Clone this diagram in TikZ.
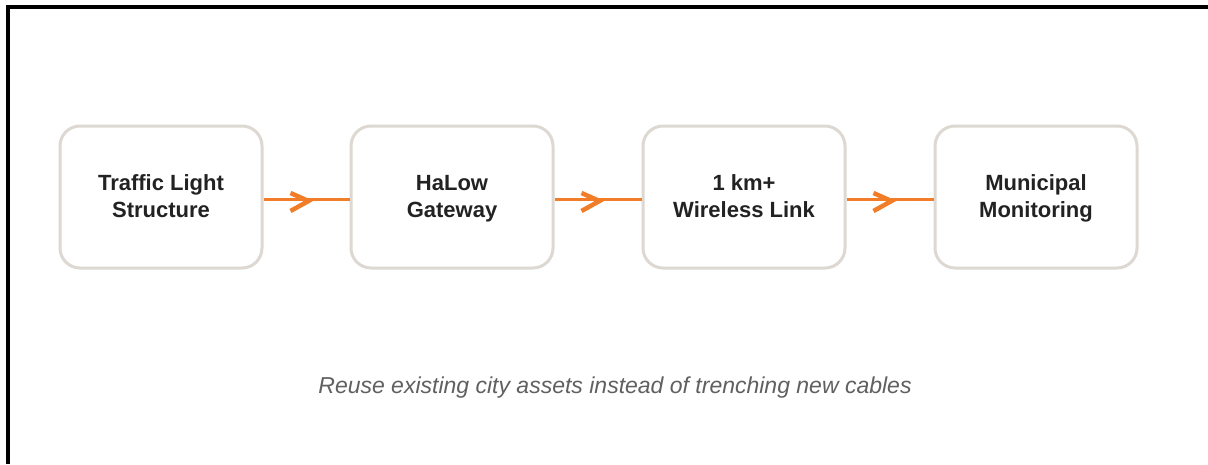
\documentclass[tikz,border=0pt]{standalone}
\usepackage{fontspec}
\setmainfont{Liberation Sans}
\definecolor{boxline}{RGB}{221,217,210}
\definecolor{orng}{RGB}{242,125,40}
\definecolor{txt}{RGB}{34,34,34}
\definecolor{cap}{RGB}{96,96,96}
\newcommand{\topstrut}{\rule{0pt}{22.9pt}}
\begin{document}
\begin{tikzpicture}[x=1pt,y=-1pt,
  stepbox/.style={draw=boxline, line width=3pt, rounded corners=20pt, minimum width=202pt, minimum height=142pt, align=center, text=txt, font=\fontsize{22}{27}\selectfont\bfseries, inner sep=0pt},
  link/.style={draw=orng, line width=3pt},
  chev/.style={draw=orng, line width=4.5pt, line join=miter}]
\useasboundingbox (0,0) rectangle (1208,464);
\fill[white] (0,0) rectangle (1208,464);
\draw[line width=4pt] (8,464) -- (8,7) -- (1208,7);
\node[stepbox] (a) at (161,197) {\topstrut Traffic Light\\\strut Structure};
\node[stepbox] (b) at (452,197) {\topstrut HaLow\\\strut Gateway};
\node[stepbox] (c) at (744,197) {\topstrut 1 km+\\\strut Wireless Link};
\node[stepbox] (d) at (1036,197) {\topstrut Municipal\\\strut Monitoring};
\foreach \p/\q in {a/b,b/c,c/d}{
  \draw[link] ([yshift=-2pt]\p.east) -- ([yshift=-2pt]\q.west);
  \draw[chev] ([xshift=27pt,yshift=4pt]\p.east) -- ([xshift=45pt,yshift=-4pt]\p.east) -- ([xshift=27pt,yshift=-14pt]\p.east);
}
\node[text=cap, font=\fontsize{23}{27}\selectfont\itshape] (cap) at (615,388) {Reuse existing city assets instead of trenching new cables};
\end{tikzpicture}
\end{document}
